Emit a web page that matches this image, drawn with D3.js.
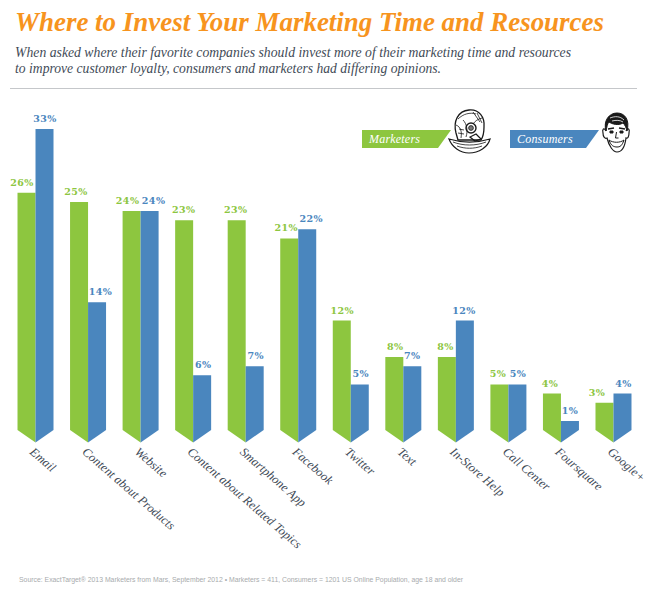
<!DOCTYPE html>
<html>
<head>
<meta charset="utf-8">
<script src="https://cdn.jsdelivr.net/npm/d3@7"></script>
<style>
  html, body { margin: 0; padding: 0; background: #fff; }
  svg { display: block; }
  .serif { font-family: "Liberation Serif", serif; font-style: italic; }
</style>
</head>
<body>
<svg id="canvas" width="650" height="589"></svg>
<script>
const categories = ["Email", "Content about Products", "Website", "Content about Related Topics",
    "Smartphone App", "Facebook", "Twitter", "Text", "In-Store Help", "Call Center", "Foursquare", "Google+"];
const marketers = [26, 25, 24, 23, 23, 21, 12, 8, 8, 5, 4, 3];
const consumers = [33, 14, 24, 6, 7, 22, 5, 7, 12, 5, 1, 4];

/** Hand placed label shifts, the labels in the picture do not sit evenly */
const greenShift = [-13.5, -12, -13, -9.5, -10, -12, -8.5, -8, -10.5, -10.5, -11, -16.5];
const blueShift = [9.5, 12.5, 13, 10, 10, 13, 10, 9, 8, 9.5, 9, 10];

const green = "#8dc63f";
const blue = "#4a86be";
const inkColor = "#3f4b57";

let canvas = d3.select('#canvas');

/** Scales */
const x = d3.scaleBand().domain(categories).range([9.5, 639.5]).paddingInner(0.33).paddingOuter(0.16);
const y = d3.scaleLinear().domain([0, 33]).range([430, 129]);
const tipDepth = 12.5;
const halfBar = 18;

/** Header */
canvas.append('text').attr('class', 'serif')
    .attr('x', 15).attr('y', 31)
    .attr('font-size', 28).attr('font-weight', 'bold')
    .attr('fill', '#f7941e')
    .attr('textLength', 589).attr('lengthAdjust', 'spacingAndGlyphs')
    .text('Where to Invest Your Marketing Time and Resources');

canvas.append('text').attr('class', 'serif')
    .attr('x', 15).attr('y', 57)
    .attr('font-size', 14.5).attr('fill', inkColor)
    .attr('textLength', 556).attr('lengthAdjust', 'spacingAndGlyphs')
    .text('When asked where their favorite companies should invest more of their marketing time and resources');

canvas.append('text').attr('class', 'serif')
    .attr('x', 15).attr('y', 73)
    .attr('font-size', 14.5).attr('fill', inkColor)
    .attr('textLength', 426).attr('lengthAdjust', 'spacingAndGlyphs')
    .text('to improve customer loyalty, consumers and marketers had differing opinions.');

canvas.append('line')
    .attr('x1', 10).attr('x2', 637).attr('y1', 88.5).attr('y2', 88.5)
    .attr('stroke', '#c5c7ca').attr('stroke-width', 1);

/** Bars: each side runs from the top down to a shared pointed tip */
const center = (d) => x(d) + x.bandwidth() / 2;
const line = d3.line();

const groups = canvas.selectAll('g.cat')
    .data(categories)
    .enter()
    .append('g')
    .attr('class', 'cat');

groups.append('path')
    .attr('fill', green)
    .attr('d', (d, i) => line([
        [center(d) - halfBar, y(marketers[i])],
        [center(d), y(marketers[i])],
        [center(d), y(0) + tipDepth],
        [center(d) - halfBar, y(0)]
    ]) + 'Z');

groups.append('path')
    .attr('fill', blue)
    .attr('d', (d, i) => line([
        [center(d), y(consumers[i])],
        [center(d) + halfBar, y(consumers[i])],
        [center(d) + halfBar, y(0)],
        [center(d), y(0) + tipDepth]
    ]) + 'Z');

/** Value labels */
groups.append('text')
    .attr('x', (d, i) => center(d) + greenShift[i])
    .attr('y', (d, i) => y(marketers[i]) - 7)
    .attr('text-anchor', 'middle')
    .attr('font-family', 'DejaVu Serif').attr('font-weight', 'bold').attr('font-size', 9.5)
    .attr('letter-spacing', 0.4)
    .attr('fill', green)
    .text((d, i) => `${marketers[i]}%`);

groups.append('text')
    .attr('x', (d, i) => center(d) + blueShift[i])
    .attr('y', (d, i) => y(consumers[i]) - 7)
    .attr('text-anchor', 'middle')
    .attr('font-family', 'DejaVu Serif').attr('font-weight', 'bold').attr('font-size', 9.5)
    .attr('letter-spacing', 0.4)
    .attr('fill', blue)
    .text((d, i) => `${consumers[i]}%`);

/** Category labels */
groups.append('text').attr('class', 'serif')
    .attr('transform', (d) => `translate(${center(d) - 6.5},${453}) rotate(41)`)
    .attr('font-size', 12.4).attr('fill', inkColor)
    .text((d) => d);

/** Legend */
const legendNames = ['Marketers', 'Consumers'];
const legendColors = [green, blue];
const legendLeft = [362, 510];

const legend = canvas.selectAll('g.legend')
    .data(legendNames)
    .enter()
    .append('g')
    .attr('class', 'legend')
    .attr('transform', (d, i) => `translate(${legendLeft[i]},130)`);

legend.append('path')
    .attr('fill', (d, i) => legendColors[i])
    .attr('d', 'M0,0H89L76,18H0Z');

legend.append('text').attr('class', 'serif')
    .attr('x', 7).attr('y', 13)
    .attr('font-size', 12).attr('fill', '#fff').attr('letter-spacing', 0.2)
    .text((d) => d);

/** Diver helmet sketch */
const helmet = canvas.append('g')
    .attr('transform', 'translate(449,109)')
    .attr('fill', 'none').attr('stroke', '#1a1a1a').attr('stroke-width', 0.8);
helmet.append('path').attr('stroke-width', 1.3)
    .attr('d', 'M7,24C4,12 9,2 20,1C30,0 36,8 35,18C35,24 34,28 32,31L9,31Z');
helmet.append('path').attr('d', 'M9,10C14,5 21,3 27,5M7,16C12,18 13,23 12,29M14,11C18,15 19,22 17,28M33,9C29,10 26,12 24,15M28,4L33,14M24,3L31,13M10,20L15,21M9,24L15,25');
helmet.append('circle').attr('cx', 22).attr('cy', 19).attr('r', 5).attr('stroke-width', 1.4);
helmet.append('circle').attr('cx', 22).attr('cy', 19).attr('r', 2.4).attr('fill', '#777');
helmet.append('path').attr('stroke-width', 1.2).attr('d', 'M0,30C13,34 28,34 41,30C39,38 30,44 20,44C11,44 3,38 0,30Z');
helmet.append('path').attr('d', 'M4,33C14,37 27,37 37,33M8,37C16,40 25,40 33,37');
helmet.append('path').attr('stroke-width', 1.2).attr('d', 'M27,25L32,30L26,32L21,28Z');

/** Consumer face sketch */
const face = canvas.append('g')
    .attr('transform', 'translate(602,113)')
    .attr('fill', 'none').attr('stroke', '#1a1a1a').attr('stroke-width', 1);
face.append('path').attr('stroke-width', 1.2)
    .attr('d', 'M4,18C2,14 0,16 1,20C1,24 3,26 5,25C7,33 11,39 15,39C20,39 23,33 24,25C26,26 27,23 27,20C28,16 26,14 24,18');
face.append('path').attr('fill', '#1a1a1a')
    .attr('d', 'M4,18C1,8 7,0 15,0C23,0 28,7 25,18C24,14 23,12 21,10C16,13 10,11 7,9C5,11 5,14 4,18Z');
face.append('path').attr('stroke', '#fff').attr('stroke-width', 0.8).attr('d', 'M8,5C13,3 18,3 22,7M10,8C14,7 18,7 21,9');
face.append('path').attr('stroke-width', 1.5).attr('d', 'M6,16L12,15M17,15L23,16');
face.append('path').attr('fill', '#1a1a1a').attr('d', 'M8,18h3v2h-3zM18,18h3v2h-3z');
face.append('path').attr('d', 'M14.5,19L13.5,25H16.5');
face.append('path').attr('fill', '#fff').attr('d', 'M7,27C11,30 18,30 22,27C20,33 18,34 15,34C12,34 9,33 7,27Z');

/** Source */
canvas.append('text')
    .attr('x', 19).attr('y', 582)
    .attr('font-family', 'Liberation Sans').attr('font-size', 7.5)
    .attr('fill', '#a8abad')
    .attr('textLength', 444).attr('lengthAdjust', 'spacingAndGlyphs')
    .text('Source: ExactTarget\u00ae 2013 Marketers from Mars, September 2012 \u2022 Marketers  = 411, Consumers = 1201 US Online Population, age 18 and older');
</script>
</body>
</html>
